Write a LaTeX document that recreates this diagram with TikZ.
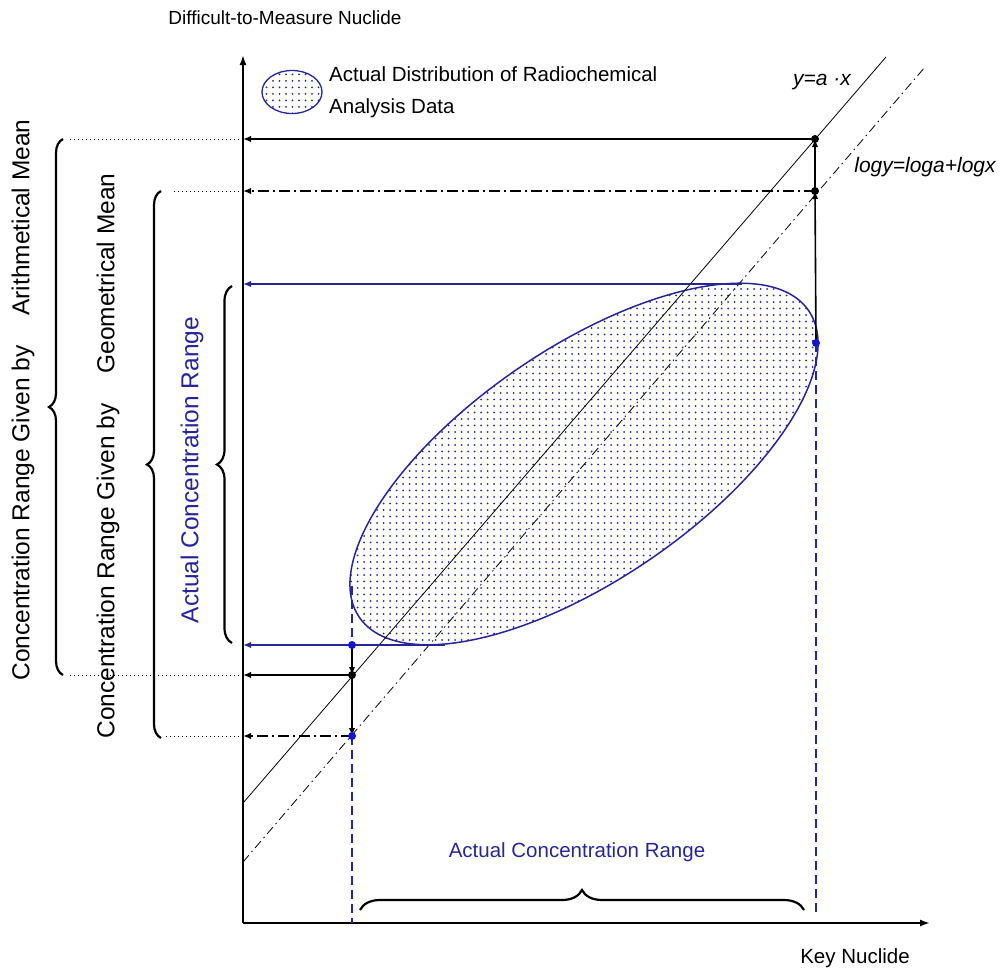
\documentclass[tikz,border=0pt]{standalone}
\usepackage{fontspec}
\setmainfont{Liberation Sans}
\usetikzlibrary{arrows.meta,decorations.pathreplacing,patterns.meta,shapes.geometric}
\definecolor{dblue}{RGB}{38,38,150}
\definecolor{pblue}{RGB}{20,20,210}
\tikzdeclarepattern{name=sdots,type=uncolored,bottom left={(-1.2pt,-1.2pt)},top right={(1.2pt,1.2pt)},tile size={(6.5pt,6.5pt)},code={\fill (0pt,0pt) circle (1pt);}}
\begin{document}
\begin{tikzpicture}[x=1pt,y=-1pt,
  axisline/.style={line width=1.8pt,-{Latex[length=10pt,width=7pt]}},
  harrow/.style={line width=1.6pt,-{Latex[length=8pt,width=6.5pt]}},
  varrow/.style={line width=1.6pt,-{Latex[length=8pt,width=6.5pt]}},
  refline/.style={line width=0.8pt},
  dashdotline/.style={line width=0.8pt,dash pattern=on 9pt off 4pt on 1.5pt off 4pt},
  hdashdot/.style={harrow,dash pattern=on 11pt off 4pt on 2pt off 4pt},
  dotline/.style={line width=0.9pt,dash pattern=on 1pt off 3pt},
  bdash/.style={dblue,line width=1.3pt,dash pattern=on 9pt off 5pt},
  bracestyle/.style={decorate,line width=2.2pt},
  bmark/.style={circle,fill=pblue,inner sep=0pt,minimum size=8pt},
  kmark/.style={circle,fill=black,inner sep=0pt,minimum size=8pt},
  lbl/.style={inner sep=0pt,font=\fontsize{20.5}{25}\selectfont},
  sidelbl/.style={inner sep=0pt,rotate=90,font=\fontsize{24.5}{28}\selectfont}]
\useasboundingbox (0,0) rectangle (1004,978);

% distribution ellipse
\node[ellipse,draw=dblue,line width=1.5pt,pattern=sdots,pattern color=dblue,
  minimum width=544pt,minimum height=232pt,inner sep=0pt,rotate=34.3] (dist) at (584,464) {};

% axes
\coordinate (O) at (243,923);
\coordinate (ytop) at (243,55);
\coordinate (xend) at (930,923);
\draw[axisline] (O) -- (ytop);
\draw[axisline] (O) -- (xend);

% reference lines
\coordinate (L1a) at (243,803);
\coordinate (L1b) at (886,57);
\coordinate (L2a) at (243,862);
\coordinate (L2b) at (925,67);
\draw[refline] (L1a) -- (L1b);
\draw[dashdotline] (L2a) -- (L2b);

% key points
\coordinate (P1) at (815,139);
\coordinate (P2) at (815,191);
\coordinate (P3) at (816,343);
\coordinate (Q1) at (352,645);
\coordinate (Q2) at (352,675);
\coordinate (Q3) at (352,736);
\coordinate (etop) at (742,284);
\coordinate (ebot) at (445,645);
\coordinate (eleft) at (352,586);

% blue dashed verticals
\draw[bdash] (eleft) -- (Q1);
\draw[bdash] (Q3) -- (Q3 |- O);
\draw[bdash,shorten >=8pt] (P3) -- (P3 |- O);

% horizontal arrows to the axis
\draw[harrow] (P1) -- (P1 -| O);
\draw[hdashdot] (P2) -- (P2 -| O);
\draw[harrow,dblue] (etop) -- (etop -| O);
\draw[harrow,dblue] (ebot) -- (ebot -| O);
\draw[harrow] (Q2) -- (Q2 -| O);
\draw[hdashdot] (Q3) -- (Q3 -| O);

% dotted extensions
\coordinate (D1) at (68,139);
\coordinate (D2) at (172,191);
\coordinate (D3) at (70,675);
\coordinate (D4) at (166,736);
\draw[dotline] (P1 -| O) -- (D1);
\draw[dotline] (P2 -| O) -- (D2);
\draw[dotline] (Q2 -| O) -- (D3);
\draw[dotline] (Q3 -| O) -- (D4);

% vertical arrows
\draw[varrow,shorten <=3pt] (P3) -- (P2);
\draw[varrow,shorten <=3pt] (P2) -- (P1);
\draw[varrow,shorten <=3pt] (Q1) -- (Q2);
\draw[varrow,shorten <=3pt] (Q2) -- (Q3);

% markers
\node[kmark] (m1) at (P1) {};
\node[kmark] (m2) at (P2) {};
\node[bmark] (m3) at (P3) {};
\node[bmark] (m4) at (Q1) {};
\node[kmark] (m5) at (Q2) {};
\node[bmark] (m6) at (Q3) {};

% braces
\coordinate (B1s) at (63,675);
\coordinate (B1e) at (63,139);
\coordinate (B2s) at (161,738);
\coordinate (B2e) at (161,191);
\coordinate (B3s) at (232,643);
\coordinate (B3e) at (232,286);
\coordinate (B4s) at (360,910);
\coordinate (B4e) at (804,910);
\draw[bracestyle,decoration={brace,amplitude=14pt}] (B1s) -- (B1e);
\draw[bracestyle,decoration={brace,amplitude=14pt}] (B2s) -- (B2e);
\draw[bracestyle,decoration={brace,amplitude=15pt}] (B3s) -- (B3e);
\draw[bracestyle,decoration={brace,amplitude=20pt}] (B4s) -- (B4e);

% legend
\node[ellipse,draw=dblue,line width=1.3pt,pattern=sdots,pattern color=dblue,
  minimum width=60pt,minimum height=43pt,inner sep=0pt] (leg) at (292,92) {};
\node[lbl,align=left,anchor=west,font=\fontsize{20.5}{32}\selectfont] (legtext) at (329,92) {Actual Distribution of Radiochemical\\Analysis Data};

% labels
\node[lbl,font=\fontsize{19}{24}\selectfont] (title) at (285,18) {Difficult-to-Measure Nuclide};
\node[lbl] (xlabel) at (855,958) {Key Nuclide};
\node[lbl,font=\fontsize{21}{25}\selectfont\itshape] (eq1) at (822,82) {y=a ·x};
\node[lbl,font=\fontsize{21}{25}\selectfont\itshape] (eq2) at (925,167) {logy=loga+logx};
\node[lbl,dblue] (bottomlbl) at (577,852) {Actual Concentration Range};
\node[sidelbl] (side1) at (23,400) {Concentration Range Given by\hspace{30pt}Arithmetical Mean};
\node[sidelbl] (side2) at (108,456) {Concentration Range Given by\hspace{30pt}Geometrical Mean};
\node[sidelbl,dblue] (side3) at (192,470) {Actual Concentration Range};
\end{tikzpicture}
\end{document}
